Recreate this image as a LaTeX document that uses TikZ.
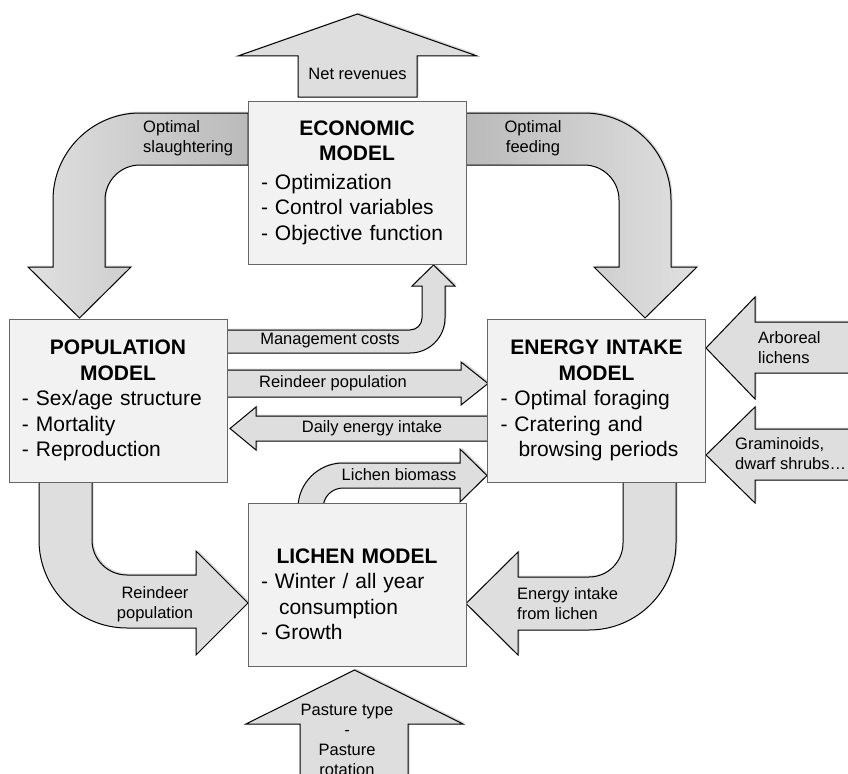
\documentclass[tikz,border=0pt]{standalone}
\usepackage{fontspec}
\setmainfont{Liberation Sans}
\usetikzlibrary{shadows}

\tikzset{
  modello/.style={draw=black!60, fill=black!5, line width=0.8bp, text width=192bp,
    minimum width=218bp, minimum height=163bp, inner xsep=13bp, inner ysep=0pt,
    align=left, font=\fontsize{21bp}{25.5bp}\selectfont},
  freccia/.style={draw=black, line width=1bp, fill=black!13,
    drop shadow={opacity=0.3, shadow xshift=1.5bp, shadow yshift=1.5bp}},
  etichetta/.style={font=\fontsize{16.5bp}{20bp}\selectfont, inner sep=0pt}
}

\begin{document}
\begin{tikzpicture}[x=1bp, y=1bp, yscale=-1]
        \clip (0,0) rectangle (848,774);

        % Disegna le frecce in alto
        \path[freccia] (298,97) -- (298,56) -- (238,56) -- (357.5,14) -- (477,56) -- (417,56) -- (417,97) -- cycle;
        \path[freccia, left color=black!12, right color=black!27]
            (248,113) -- (140,113) arc[start angle=270, end angle=180, radius=87]
            -- (53,267) -- (28,267) -- (79.5,318) -- (131,267) -- (105,267)
            -- (105,200) arc[start angle=180, end angle=270, radius=35] -- (248,165) -- cycle;
        \path[freccia, left color=black!27, right color=black!12]
            (466,113) -- (584,113) arc[start angle=270, end angle=360, radius=87]
            -- (671,267) -- (697,267) -- (645,318) -- (594,267) -- (619,267)
            -- (619,200) arc[start angle=0, end angle=-90, radius=35] -- (466,165) -- cycle;

        % Disegna le frecce centrali
        \path[freccia] (226,330) -- (410,330) arc[start angle=90, end angle=0, radius=12]
            -- (422,286) -- (412,286) -- (433.5,265) -- (455,286) -- (445,286)
            -- (445,318) arc[start angle=0, end angle=90, radius=35] -- (226,353) -- cycle;
        \path[freccia] (226,370) -- (461,370) -- (461,362) -- (488,383.5) -- (461,405) -- (461,397) -- (226,397) -- cycle;
        \path[freccia] (489,416) -- (256,416) -- (256,407) -- (230,428.5) -- (256,450) -- (256,441) -- (489,441) -- cycle;
        \path[freccia] (298,508) arc[start angle=180, end angle=270, radius=45]
            -- (460,463) -- (460,449) -- (487,475.5) -- (460,502) -- (460,488)
            -- (343,488) arc[start angle=270, end angle=180, radius=20] -- cycle;

        % Disegna le frecce da destra
        \path[freccia] (860,322) -- (755,322) -- (755,297) -- (706,348) -- (755,399) -- (755,373) -- (860,373) -- cycle;
        \path[freccia] (860,429) -- (755,429) -- (755,407) -- (706,455) -- (755,503) -- (755,480) -- (860,480) -- cycle;

        % Disegna le frecce in basso
        \path[freccia] (39,478) -- (39,540) arc[start angle=180, end angle=90, radius=88]
            -- (196,628) -- (196,655) -- (248,603) -- (196,551) -- (196,575)
            -- (127,575) arc[start angle=90, end angle=180, radius=35] -- (92,478) -- cycle;
        \path[freccia] (623,478) -- (623,543) arc[start angle=0, end angle=90, radius=34]
            -- (518,577) -- (518,552) -- (466,603.5) -- (518,655) -- (518,630)
            -- (589,630) arc[start angle=90, end angle=0, radius=87] -- (676,478) -- cycle;
        \path[freccia] (300,790) -- (300,724) -- (246,724) -- (354.5,670) -- (463,724) -- (408,724) -- (408,790) -- cycle;

        % Disegna i modelli
        \node[modello] (eco) at (357,182.5) {{\centering\bfseries ECONOMIC\\MODEL\par}\vspace{3bp}- Optimization\\- Control variables\\- Objective function};
        \node[modello] (pop) at (118,400.5) {{\centering\bfseries POPULATION\\MODEL\par}- Sex/age structure\\- Mortality\\- Reproduction};
        \node[modello] (energy) at (596.5,400.5) {{\centering\bfseries ENERGY INTAKE\\MODEL\par}- Optimal foraging\\- Cratering and\\\hspace*{18bp}browsing periods};
        \node[modello] (lichen) at (357,585) {{\centering\bfseries\rule{0pt}{33bp}LICHEN MODEL\par}- Winter / all year\\\hspace*{18bp}consumption\\- Growth};

        % Etichette delle frecce
        \node[etichetta] (netrev) at (357.5,74) {Net revenues};
        \node[etichetta, anchor=west, align=left] (slaughter) at (143,138.5) {Optimal\\slaughtering};
        \node[etichetta, align=center] (feeding) at (533,138.5) {Optimal\\feeding};
        \node[etichetta] (mgmt) at (330,341) {Management costs};
        \node[etichetta] (reinpop) at (333,383.5) {Reindeer population};
        \node[etichetta] (daily) at (372,428.5) {Daily energy intake};
        \node[etichetta] (biomass) at (399,475) {Lichen biomass};
        \node[etichetta, anchor=west, align=left] (arboreal) at (758,348) {Arboreal\\lichens};
        \node[etichetta, anchor=west, align=left] (gramin) at (735,454) {Graminoids,\\dwarf shrubs…};
        \node[etichetta, align=center] (reinpoplow) at (155,604) {Reindeer\\population};
        \node[etichetta, anchor=west, align=left] (fromlichen) at (517,603.5) {Energy intake\\from lichen};
        \node[etichetta, align=center] (pasture) at (347,739.5) {Pasture type\\-\\Pasture\\rotation};
\end{tikzpicture}
\end{document}
